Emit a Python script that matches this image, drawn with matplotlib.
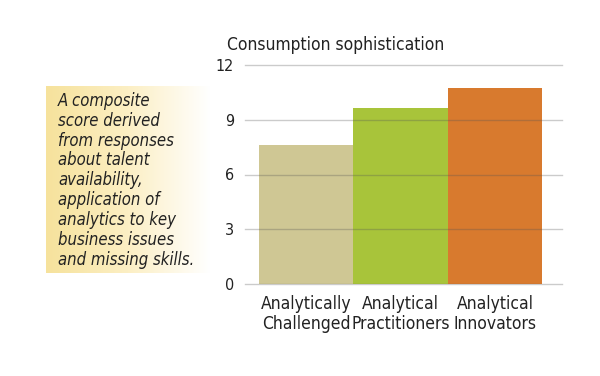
import numpy as np
from matplotlib import pyplot as plt
from matplotlib.colors import LinearSegmentedColormap

categories = ['Analytically\nChallenged', 'Analytical\nPractitioners', 'Analytical\nInnovators']
scores = [7.6, 9.65, 10.75]
bar_colors = ['#cfc794', '#a8c43a', '#d87a2e']
y_ticks = [0, 3, 6, 9, 12]
title = 'Consumption sophistication'
note = ('A composite\nscore derived\nfrom responses\nabout talent\navailability,\n'
        'application of\nanalytics to key\nbusiness issues\nand missing skills.')

plt.rcParams['font.family'] = ['DejaVu Sans']
plt.rcParams['font.stretch'] = 'condensed'

W, H = 600, 376
fig = plt.figure(figsize=(W / 100, H / 100), dpi=100)

# chart area in pixels: x 245..562, y 65..284
ax = fig.add_axes([245 / W, 1 - 284 / H, (562 - 245) / W, (284 - 65) / H])
x = np.arange(len(categories))
ax.bar(x, scores, width=1.0, color=bar_colors, zorder=1)
for t in y_ticks:
    ax.axhline(t, color='#555555', alpha=0.3, lw=1, zorder=2, clip_on=False)
ax.set_xlim(-0.645, 2.71)
ax.set_ylim(0, 12)
ax.set_yticks(y_ticks)
ax.set_xticks(x)
ax.set_xticklabels(categories, fontsize=12.5, color='#222222', linespacing=1.15)
ax.tick_params(axis='y', length=0, pad=8, labelsize=11.5, labelcolor='#222222')
ax.tick_params(axis='x', length=0, pad=8)
for s in ax.spines.values():
    s.set_visible(False)
fig.text(227 / W, 1 - 45 / H, title, fontsize=12.5, color='#222222', va='center', ha='left')

# note box with yellow-to-white gradient
bx = fig.add_axes([46 / W, 1 - 273 / H, (210 - 46) / W, (273 - 86) / H])
cmap = LinearSegmentedColormap.from_list('yl', ['#f6e29c', '#fcefc4', '#ffffff'])
grad = np.linspace(0, 1, 256).reshape(1, -1)
bx.imshow(grad, aspect='auto', cmap=cmap, extent=[0, 1, 0, 1])
bx.set_axis_off()
fig.text(58 / W, 1 - 92 / H, note, fontsize=12, style='italic', color='#222222',
         va='top', ha='left', linespacing=1.13)

fig.savefig('out.png', dpi=100)
